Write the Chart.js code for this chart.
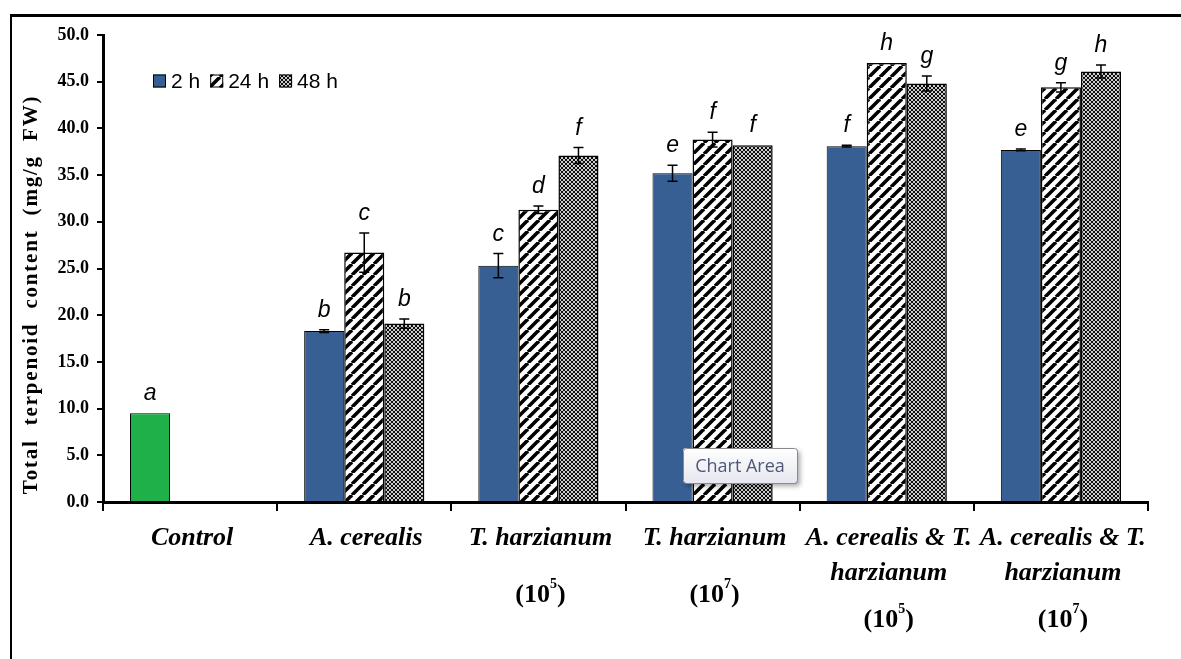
<!DOCTYPE html>
<html>
<head>
<meta charset="utf-8">
<script src="https://cdn.jsdelivr.net/npm/chart.js@4.4.1/dist/chart.umd.min.js"></script>
<style>
  html, body { margin: 0; padding: 0; background: #fff; }
  #wrap { width: 1181px; height: 659px; position: relative; }
</style>
</head>
<body>
<div id="wrap"><canvas id="myChart" width="1181" height="659"></canvas></div>
<script>
// data
const categories = [["Control"], ["A. cerealis"], ["T. harzianum"], ["T. harzianum"], ["A. cerealis & T.", "harzianum"], ["A. cerealis & T.", "harzianum"]];
const doses = ["", "", "5", "7", "5", "7"];
const seriesNames = ["2 h", "24 h", "48 h"];
const values2h = [9.5, 18.3, 25.3, 35.2, 38.1, 37.7];
const values24h = [null, 26.7, 31.3, 38.8, 47.0, 44.4];
const values48h = [null, 19.1, 37.1, 38.2, 44.8, 46.1];
const errors2h = [0, 0.15, 1.3, 0.85, 0.1, 0.1];
const errors24h = [null, 2.1, 0.4, 0.8, 0, 0.5];
const errors48h = [null, 0.5, 0.85, 0, 0.8, 0.7];
const letters2h = ["a", "b", "c", "e", "f", "e"];
const letters24h = [null, "c", "d", "f", "h", "g"];
const letters48h = [null, "b", "f", "f", "g", "h"];
const yTicks = [0, 5, 10, 15, 20, 25, 30, 35, 40, 45, 50];
const yTitle = "Total  terpenoid  content  (mg/g  FW)";

const blue = "#375f93";
const green = "#1fb04a";

const chart = document.querySelector("#myChart");

// hatch: white with black "/" stripes
const makeStripes = () => {
  const c = document.createElement("canvas");
  c.width = 11; c.height = 11;
  const g = c.getContext("2d");
  g.fillStyle = "#fff";
  g.fillRect(0, 0, 11, 11);
  g.strokeStyle = "#000";
  g.lineWidth = 3.5;
  for (const k of [-11, 0, 11]) {
    g.beginPath();
    g.moveTo(k, 11);
    g.lineTo(k + 11, 0);
    g.stroke();
  }
  return chart.getContext("2d").createPattern(c, "repeat");
};

// dense dotted mesh
const makeDots = () => {
  const c = document.createElement("canvas");
  c.width = 4; c.height = 4;
  const g = c.getContext("2d");
  g.fillStyle = "#0d0d0d";
  g.fillRect(0, 0, 4, 4);
  g.fillStyle = "#fff";
  for (const [x, y] of [[0, 0], [4, 0], [0, 4], [4, 4], [2, 2]]) {
    g.beginPath();
    g.arc(x, y, 1.05, 0, Math.PI * 2);
    g.fill();
  }
  return chart.getContext("2d").createPattern(c, "repeat");
};

const stripes = makeStripes();
const dots = makeDots();

const fills = [
  categories.map((c) => (c[0] === "Control" ? green : blue)),
  stripes,
  dots,
];
const errorSets = [errors2h, errors24h, errors48h];
const letterSets = [letters2h, letters24h, letters48h];

const framePlugin = {
  id: "frame",
  beforeDraw: (c) => {
    const ctx = c.ctx;
    ctx.save();
    ctx.fillStyle = "#fff";
    ctx.fillRect(0, 0, c.width, c.height);
    ctx.strokeStyle = "#000";
    ctx.lineWidth = 3;
    ctx.beginPath();
    ctx.moveTo(10, 15.5);
    ctx.lineTo(c.width, 15.5);
    ctx.stroke();
    ctx.lineWidth = 2;
    ctx.beginPath();
    ctx.moveTo(11, 15);
    ctx.lineTo(11, c.height);
    ctx.stroke();
    ctx.restore();
  },
};

const errorPlugin = {
  id: "errors",
  afterDatasetsDraw: (c) => {
    const ctx = c.ctx;
    const y = c.scales.y;
    ctx.save();
    c.data.datasets.forEach((ds, di) => {
      const meta = c.getDatasetMeta(di);
      meta.data.forEach((bar, i) => {
        const v = ds.data[i];
        if (v === null) return;
        const e = errorSets[di][i];
        let top = y.getPixelForValue(v);
        if (e) {
          const yt = y.getPixelForValue(v + e);
          const yb = y.getPixelForValue(v - e);
          ctx.strokeStyle = "#000";
          ctx.lineWidth = 1.5;
          ctx.beginPath();
          ctx.moveTo(bar.x, yt); ctx.lineTo(bar.x, yb);
          ctx.moveTo(bar.x - 5, yt); ctx.lineTo(bar.x + 5, yt);
          ctx.moveTo(bar.x - 5, yb); ctx.lineTo(bar.x + 5, yb);
          ctx.stroke();
          top = yt;
        }
        const l = letterSets[di][i];
        if (l) {
          ctx.fillStyle = "#000";
          ctx.font = 'italic 23px "Liberation Sans"';
          ctx.textAlign = "center";
          ctx.textBaseline = "alphabetic";
          ctx.fillText(l, bar.x, top - 13);
        }
      });
    });
    ctx.restore();
  },
  afterDraw: (c) => {
    const ctx = c.ctx;
    const x = c.scales.x;
    const area = c.chartArea;
    ctx.save();
    // category labels
    ctx.fillStyle = "#000";
    ctx.textAlign = "center";
    ctx.textBaseline = "middle";
    categories.forEach((lines, i) => {
      const cx = x.getPixelForValue(i) + 2;
      ctx.font = 'italic bold 26px "Liberation Serif"';
      lines.forEach((t, k) => ctx.fillText(t, cx, area.bottom + 36 + k * 35));
      if (doses[i]) {
        const dy = area.bottom + 93 + (lines.length - 1) * 25;
        ctx.font = 'bold 26px "Liberation Serif"';
        const w1 = ctx.measureText("(10").width;
        const w3 = ctx.measureText(")").width;
        ctx.font = 'bold 14px "Liberation Serif"';
        const w2 = ctx.measureText(doses[i]).width;
        let sx = cx - (w1 + w2 + w3) / 2;
        ctx.textAlign = "left";
        ctx.font = 'bold 26px "Liberation Serif"';
        ctx.fillText("(10", sx, dy);
        ctx.font = 'bold 14px "Liberation Serif"';
        ctx.fillText(doses[i], sx + w1, dy - 11);
        ctx.font = 'bold 26px "Liberation Serif"';
        ctx.fillText(")", sx + w1 + w2, dy);
        ctx.textAlign = "center";
      }
    });

    // y title
    ctx.save();
    ctx.translate(32, (area.top + area.bottom) / 2 + 26);
    ctx.rotate(-Math.PI / 2);
    ctx.font = 'bold 21px "Liberation Serif"';
    ctx.letterSpacing = "1.8px";
    ctx.textAlign = "center";
    ctx.fillText(yTitle, 0, 0);
    ctx.restore();

    // legend
    let lx = 153;
    const ly = 81;
    ctx.textAlign = "left";
    ctx.textBaseline = "middle";
    ctx.font = '21px "Liberation Sans"';
    seriesNames.forEach((name, di) => {
      ctx.fillStyle = di === 0 ? blue : fills[di];
      ctx.fillRect(lx, ly - 6.5, 13, 13);
      ctx.strokeStyle = "#000";
      ctx.lineWidth = 1;
      ctx.strokeRect(lx + 0.5, ly - 6, 12, 12);
      ctx.fillStyle = "#000";
      ctx.fillText(name, lx + 18, ly + 1);
      lx += 18 + ctx.measureText(name).width + 10;
    });

    // "Chart Area" hover tip
    const bx = 683, by = 448, bw = 114, bh = 35;
    ctx.save();
    ctx.shadowColor = "rgba(0,0,0,0.35)";
    ctx.shadowBlur = 5;
    ctx.shadowOffsetX = 3;
    ctx.shadowOffsetY = 3;
    const grad = ctx.createLinearGradient(0, by, 0, by + bh);
    grad.addColorStop(0, "#ffffff");
    grad.addColorStop(1, "#e6e7ef");
    ctx.fillStyle = grad;
    ctx.beginPath();
    ctx.roundRect(bx, by, bw, bh, 3);
    ctx.fill();
    ctx.restore();
    ctx.strokeStyle = "#8a8a8a";
    ctx.lineWidth = 1;
    ctx.beginPath();
    ctx.roundRect(bx + 0.5, by + 0.5, bw, bh, 3);
    ctx.stroke();
    ctx.fillStyle = "#4f5878";
    ctx.font = '18px "Open Sans"';
    ctx.textAlign = "center";
    ctx.fillText("Chart Area", bx + bw / 2, by + bh / 2 + 1);
    ctx.restore();
  },
};

const datasets = seriesNames.map((name, di) => ({
  label: name,
  data: [values2h, values24h, values48h][di],
  backgroundColor: fills[di],
  borderColor: "#000",
  borderWidth: di === 0 ? 1 : 1.5,
  categoryPercentage: 0.69,
  barPercentage: 1,
}));

const myChart = new Chart(chart, {
  type: "bar",
  data: { labels: categories.map((c) => c.join(" ")), datasets },
  options: {
    responsive: false,
    animation: false,
    layout: { padding: { left: 0, top: 35, right: 33, bottom: 0 } },
    plugins: { legend: { display: false }, tooltip: { enabled: false } },
    scales: {
      x: {
        grid: { display: true, drawOnChartArea: false, drawTicks: true, tickLength: 9, color: "#000", lineWidth: 2, offset: true },
        border: { display: true, color: "#000", width: 3 },
        ticks: { display: false },
        afterFit: (s) => { s.height = 157; },
      },
      y: {
        min: 0,
        max: 50,
        afterBuildTicks: (s) => { s.ticks = yTicks.map((v) => ({ value: v })); },
        ticks: {
          color: "#000",
          padding: 8,
          font: { family: '"Liberation Serif"', size: 18, weight: "bold" },
          callback: (v) => Number(v).toFixed(1),
        },
        grid: { drawOnChartArea: false, drawTicks: true, tickLength: 6, color: "#000", lineWidth: 2 },
        border: { color: "#000", width: 3 },
        afterFit: (s) => { s.width = 103; },
      },
    },
  },
  plugins: [framePlugin, errorPlugin],
});
</script>
</body>
</html>
